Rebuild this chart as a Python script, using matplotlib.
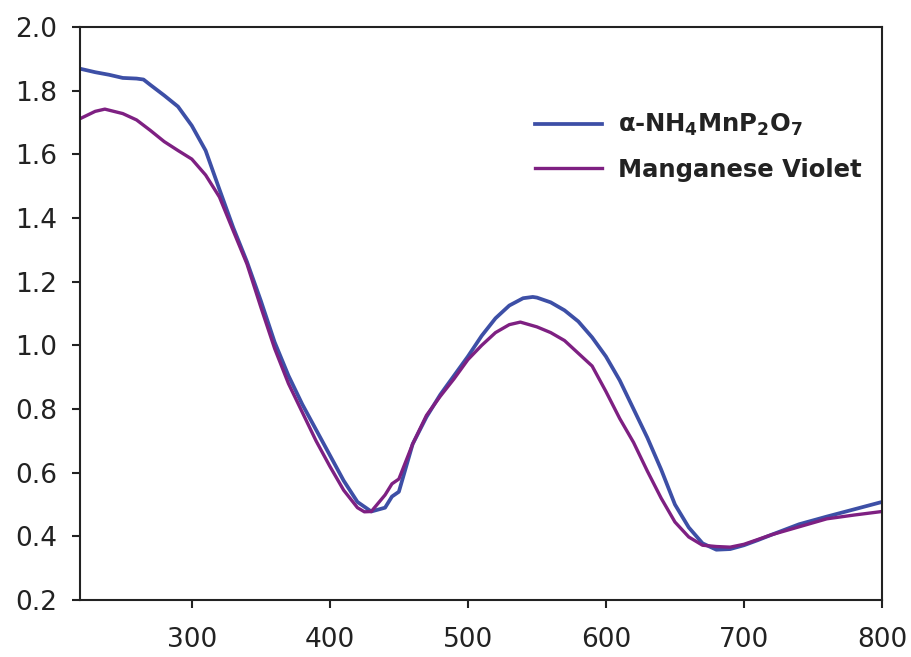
import matplotlib
matplotlib.use("Agg")
import matplotlib.pyplot as plt

plt.rcParams['font.family'] = ['DejaVu Sans']
plt.rcParams['mathtext.fontset'] = 'custom'
plt.rcParams['mathtext.rm'] = 'DejaVu Sans:bold'
plt.rcParams['mathtext.it'] = 'DejaVu Sans:bold'
plt.rcParams['mathtext.bf'] = 'DejaVu Sans:bold'

# Wavelength (nm) and values for alpha-NH4MnP2O7 (blue)
wl_a = [220, 230, 240, 250, 260, 265, 270, 280, 290, 300, 310, 320, 330, 340, 350,
        360, 370, 380, 390, 400, 410, 420, 430, 440, 445, 450, 460, 470, 480, 490,
        500, 510, 520, 530, 540, 547, 550, 560, 570, 580, 590, 600, 610, 620, 630,
        640, 650, 660, 670, 680, 690, 700, 710, 720, 740, 760, 780, 800]
val_a = [1.868, 1.858, 1.850, 1.840, 1.838, 1.835, 1.818, 1.785, 1.750, 1.690, 1.612,
         1.490, 1.370, 1.262, 1.140, 1.010, 0.905, 0.815, 0.735, 0.655, 0.575, 0.508,
         0.478, 0.490, 0.525, 0.540, 0.690, 0.775, 0.845, 0.905, 0.965, 1.030, 1.085,
         1.125, 1.148, 1.152, 1.150, 1.135, 1.110, 1.075, 1.025, 0.965, 0.890, 0.800,
         0.710, 0.610, 0.500, 0.428, 0.378, 0.358, 0.360, 0.372, 0.388, 0.405, 0.438,
         0.462, 0.485, 0.508]

# Wavelength (nm) and values for Manganese Violet (purple)
wl_b = [220, 230, 237, 250, 260, 270, 280, 290, 300, 310, 320, 330, 340, 350, 360,
        370, 380, 390, 400, 410, 420, 425, 430, 440, 445, 450, 460, 470, 480, 490,
        500, 510, 520, 530, 538, 550, 560, 570, 580, 590, 600, 610, 620, 630, 640,
        650, 660, 670, 680, 690, 700, 720, 740, 760, 780, 800]
val_b = [1.714, 1.735, 1.742, 1.728, 1.708, 1.675, 1.640, 1.612, 1.585, 1.535, 1.466,
         1.360, 1.255, 1.120, 0.990, 0.880, 0.790, 0.700, 0.620, 0.545, 0.490, 0.477,
         0.478, 0.530, 0.565, 0.580, 0.690, 0.780, 0.840, 0.895, 0.955, 1.000, 1.040,
         1.065, 1.073, 1.058, 1.040, 1.015, 0.975, 0.935, 0.855, 0.770, 0.695, 0.605,
         0.520, 0.445, 0.398, 0.372, 0.368, 0.366, 0.375, 0.405, 0.430, 0.455, 0.467,
         0.478]

label_a = r'$\alpha$-NH$_4$MnP$_2$O$_7$'
label_b = 'Manganese Violet'
x_ticks = [300, 400, 500, 600, 700, 800]
y_ticks = [0.2, 0.4, 0.6, 0.8, 1.0, 1.2, 1.4, 1.6, 1.8, 2.0]

fig = plt.figure(figsize=(9.11, 6.57), dpi=100)
ax = fig.add_axes([80/911, 1-600/657, (882-80)/911, (600-27)/657])

ax.plot(wl_a, val_a, color='#3d4fa6', lw=2.7, label=label_a)
ax.plot(wl_b, val_b, color='#7e2082', lw=2.4, label=label_b)

ax.set_xlim(219, 800)
ax.set_ylim(0.2, 2.0)
ax.set_xticks(x_ticks)
ax.set_xticklabels([str(t) for t in x_ticks])
ax.set_yticks(y_ticks)
ax.set_yticklabels([f'{t:.1f}' for t in y_ticks])
ax.tick_params(direction='out', length=5.5, width=1.5, labelsize=19, colors='#222222')
ax.tick_params(axis='y', pad=11)
ax.tick_params(axis='x', pad=14)
for s in ax.spines.values():
    s.set_linewidth(1.5)
    s.set_color('#222222')

leg = ax.legend(loc='upper left', bbox_to_anchor=(523/911, 1-100/657),
                bbox_transform=fig.transFigure, frameon=False, borderpad=0,
                handlelength=2.75, handletextpad=0.65, labelspacing=0.8,
                prop={'size': 17.5, 'weight': 'bold'})
for t in leg.get_texts():
    t.set_color('#222222')

fig.savefig('out.png', dpi=100)
